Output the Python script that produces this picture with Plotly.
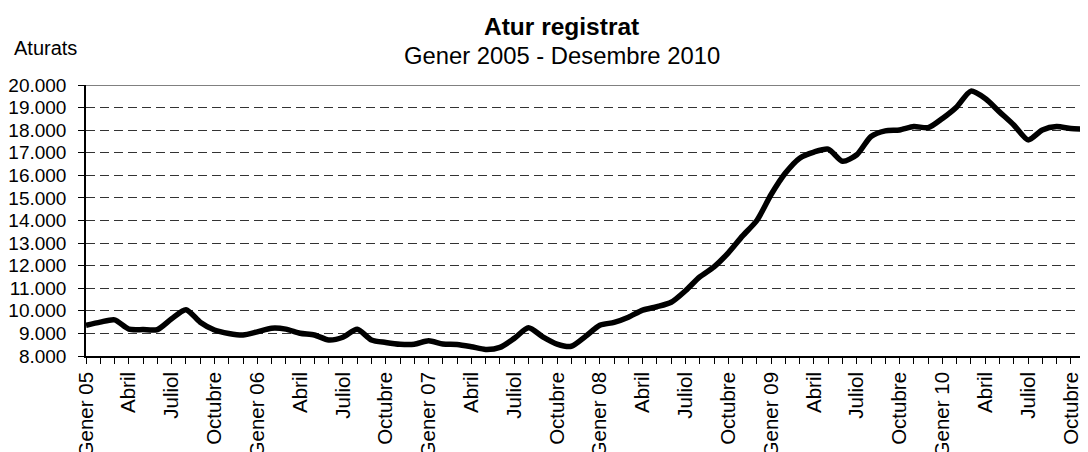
import plotly.graph_objects as go

# Monthly registered unemployment (Aturats), Jan 2005 - Dec 2010
months = [f"{y}-{m:02d}" for y in range(2005, 2011) for m in range(1, 13)]

aturats_2005 = [9360, 9500, 9600, 9190, 9170, 9170, 9650, 10050, 9500, 9150, 9000, 8930]
aturats_2006 = [9070, 9230, 9190, 9010, 8930, 8710, 8830, 9180, 8710, 8600, 8520, 8520]
aturats_2007 = [8670, 8530, 8510, 8410, 8290, 8380, 8780, 9250, 8850, 8530, 8430, 8870]
aturats_2008 = [9360, 9490, 9720, 10030, 10180, 10380, 10890, 11500, 11950, 12570, 13320, 14000]
aturats_2009 = [15150, 16100, 16760, 17030, 17160, 16620, 16910, 17720, 17970, 18010, 18160, 18110]
aturats_2010 = [18520, 19030, 19730, 19400, 18810, 18230, 17570, 18010, 18160, 18070, 18040, 18000]

values = aturats_2005 + aturats_2006 + aturats_2007 + aturats_2008 + aturats_2009 + aturats_2010

quarter_labels = [
    "Gener 05", "Abril", "Juliol", "Octubre",
    "Gener 06", "Abril", "Juliol", "Octubre",
    "Gener 07", "Abril", "Juliol", "Octubre",
    "Gener 08", "Abril", "Juliol", "Octubre",
    "Gener 09", "Abril", "Juliol", "Octubre",
    "Gener 10", "Abril", "Juliol", "Octubre",
]
ticktext = [quarter_labels[i // 3] if i % 3 == 0 else "" for i in range(len(months))]

FONT = "Liberation Sans, Arial, sans-serif"

# page has an 8px body margin; plot area in page coords: x 86..1088, y 85..356
PL, PT, PW, PH = 86, 85, 1002, 271


def px(x):
    return (x - PL) / PW


def py(y):
    return 1 + (PT - y) / PH


fig = go.Figure()
fig.add_trace(go.Scatter(
    x=months, y=values, mode="lines",
    line=dict(color="black", width=5.5, shape="spline", smoothing=0.7),
    showlegend=False, hoverinfo="x+y",
))

fig.update_layout(
    width=1080, height=444,
    margin=dict(l=78, r=0, t=77, b=96, autoexpand=False),
    paper_bgcolor="white", plot_bgcolor="white",
    separators=",.",
    font=dict(family=FONT, size=19, color="black"),
    showlegend=False,
)

fig.update_xaxes(
    type="category",
    range=[0, 70.2],
    automargin=False,
    tickmode="array", tickvals=months, ticktext=ticktext,
    tickangle=-90,
    ticks="outside", ticklen=6, tickwidth=1, tickcolor="black",
    showline=True, linecolor="black", linewidth=1.5,
    showgrid=False, zeroline=False,
    tickfont=dict(family=FONT, size=20.5, color="black"),
)

fig.update_yaxes(
    range=[8000, 20000], dtick=1000, tick0=8000,
    automargin=False,
    tickformat=",d",
    ticks="outside", ticklen=6, tickwidth=1, tickcolor="black",
    ticklabelstandoff=8,
    showline=True, linecolor="black", linewidth=1.5,
    showgrid=True, gridcolor="#333333", gridwidth=1, griddash="9px,5px",
    zeroline=False,
    tickfont=dict(family=FONT, size=19, color="black"),
)

# top border of plot area
fig.add_shape(type="line", xref="paper", yref="y", x0=0, x1=1, y0=20000, y1=20000,
              line=dict(color="#808080", width=2), layer="above")

fig.add_annotation(text="<b>Atur registrat</b>", xref="paper", yref="paper",
                   x=px(561), y=py(26), showarrow=False,
                   xanchor="center", yanchor="middle",
                   font=dict(family=FONT, size=24.5, color="black"))
fig.add_annotation(text="Gener 2005 - Desembre 2010", xref="paper", yref="paper",
                   x=px(562), y=py(56), showarrow=False,
                   xanchor="center", yanchor="middle",
                   font=dict(family=FONT, size=23.8, color="black"))
fig.add_annotation(text="Aturats", xref="paper", yref="paper",
                   x=px(12), y=py(48), showarrow=False,
                   xanchor="left", yanchor="middle",
                   font=dict(family=FONT, size=20, color="black"))

fig.write_html("out.html")
